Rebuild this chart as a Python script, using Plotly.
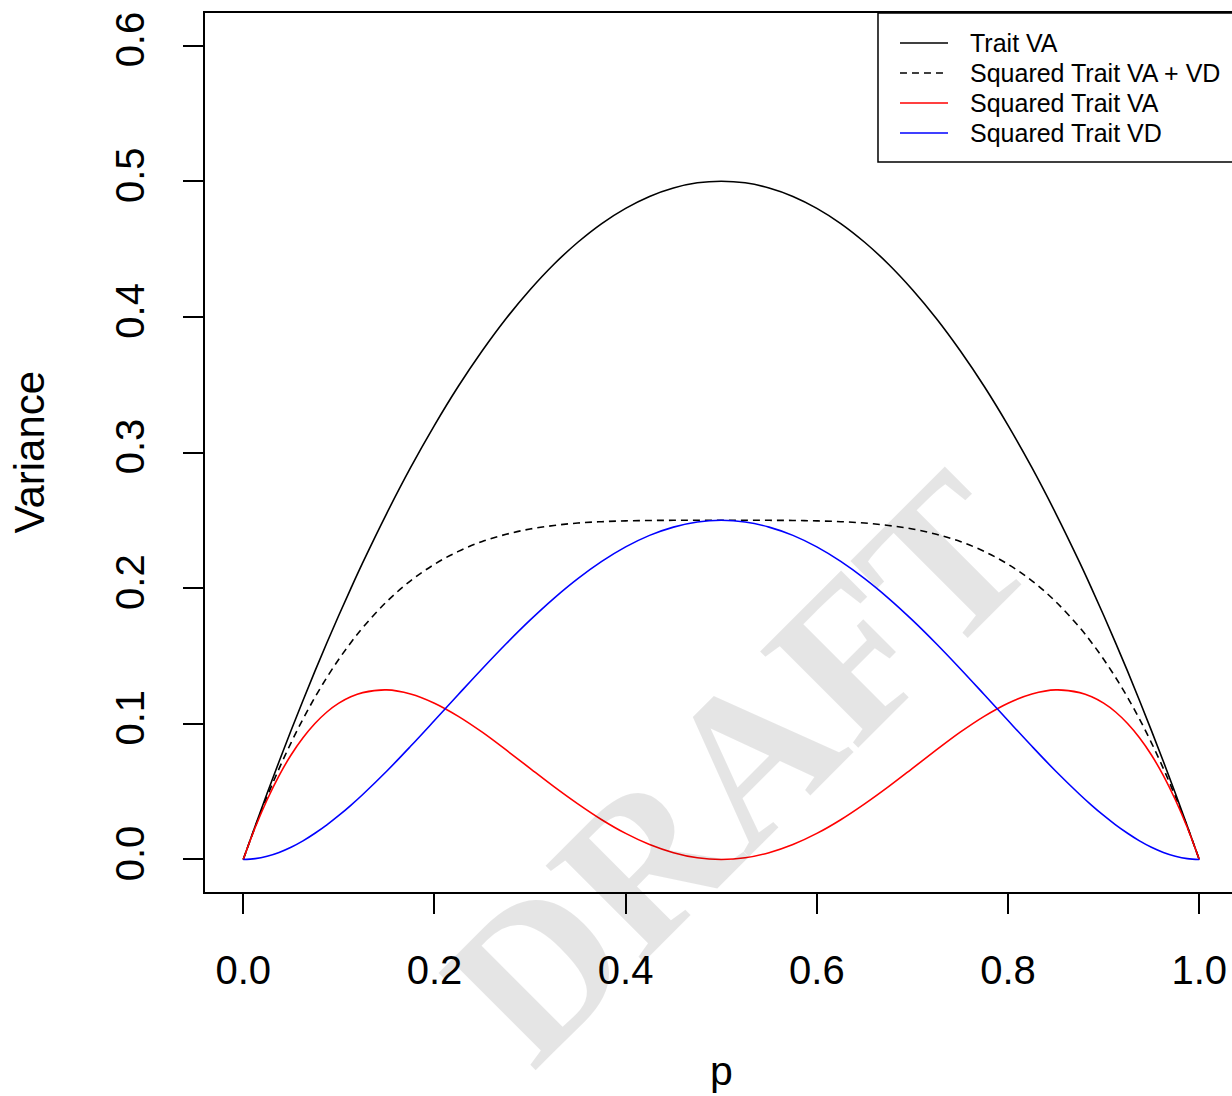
import plotly.graph_objects as go

# Allele frequency p and the variance components read along it
# (finer spacing near the ends where the curves rise steeply)
p = [0.0, 0.0125, 0.025, 0.0375, 0.05, 0.0625, 0.075, 0.0875, 0.1, 0.1125,
     0.125, 0.150, 0.175, 0.200, 0.225, 0.250, 0.275, 0.300, 0.325, 0.350,
     0.375, 0.400, 0.425, 0.450, 0.475, 0.500, 0.525, 0.550, 0.575, 0.600,
     0.625, 0.650, 0.675, 0.700, 0.725, 0.750, 0.775, 0.800, 0.825, 0.850,
     0.875, 0.8875, 0.9, 0.9125, 0.925, 0.9375, 0.95, 0.9625, 0.975, 0.9875,
     1.0]

trait_va = [0.0, 0.0247, 0.0488, 0.0722, 0.095, 0.1172, 0.1388, 0.1597, 0.18, 0.1997,
            0.2188, 0.255, 0.2888, 0.32, 0.3488, 0.375, 0.3988, 0.42, 0.4388, 0.455,
            0.4688, 0.48, 0.4888, 0.495, 0.4988, 0.5, 0.4988, 0.495, 0.4888, 0.48,
            0.4688, 0.455, 0.4388, 0.42, 0.3988, 0.375, 0.3488, 0.32, 0.2888, 0.255,
            0.2188, 0.1997, 0.18, 0.1597, 0.1388, 0.1172, 0.095, 0.0722, 0.0488, 0.0247,
            0.0]

sq_va_vd = [0.0, 0.0241, 0.0464, 0.067, 0.086, 0.1035, 0.1195, 0.1342, 0.1476, 0.1598,
            0.1709, 0.19, 0.2054, 0.2176, 0.2271, 0.2344, 0.2397, 0.2436, 0.2462, 0.248,
            0.249, 0.2496, 0.2499, 0.25, 0.25, 0.25, 0.25, 0.25, 0.2499, 0.2496,
            0.249, 0.248, 0.2462, 0.2436, 0.2397, 0.2344, 0.2271, 0.2176, 0.2054, 0.19,
            0.1709, 0.1598, 0.1476, 0.1342, 0.1195, 0.1035, 0.086, 0.067, 0.0464, 0.0241,
            0.0]

sq_va = [0.0, 0.0235, 0.044, 0.0618, 0.077, 0.0897, 0.1002, 0.1087, 0.1152, 0.1199,
         0.123, 0.125, 0.122, 0.1152, 0.1055, 0.0938, 0.0807, 0.0672, 0.0537, 0.041,
         0.0293, 0.0192, 0.011, 0.005, 0.0012, 0.0, 0.0012, 0.005, 0.011, 0.0192,
         0.0293, 0.041, 0.0537, 0.0672, 0.0807, 0.0938, 0.1055, 0.1152, 0.122, 0.125,
         0.123, 0.1199, 0.1152, 0.1087, 0.1002, 0.0897, 0.077, 0.0618, 0.044, 0.0235,
         0.0]

sq_vd = [0.0, 0.0006, 0.0024, 0.0052, 0.009, 0.0137, 0.0193, 0.0255, 0.0324, 0.0399,
         0.0479, 0.065, 0.0834, 0.1024, 0.1216, 0.1406, 0.159, 0.1764, 0.1925, 0.207,
         0.2197, 0.2304, 0.2389, 0.245, 0.2488, 0.25, 0.2488, 0.245, 0.2389, 0.2304,
         0.2197, 0.207, 0.1925, 0.1764, 0.159, 0.1406, 0.1216, 0.1024, 0.0834, 0.065,
         0.0479, 0.0399, 0.0324, 0.0255, 0.0193, 0.0137, 0.009, 0.0052, 0.0024, 0.0006,
         0.0]

series_names = ["Trait VA", "Squared Trait VA + VD", "Squared Trait VA", "Squared Trait VD"]
series_values = [trait_va, sq_va_vd, sq_va, sq_vd]
series_colors = ["black", "black", "#ff0000", "#0000ff"]
series_dash = ["solid", "7px,5px", "solid", "solid"]

x_ticks = [0.0, 0.2, 0.4, 0.6, 0.8, 1.0]
y_ticks = [0.0, 0.1, 0.2, 0.3, 0.4, 0.5, 0.6]

SANS = "Liberation Sans, Arial, Helvetica, sans-serif"
SERIF = "Liberation Serif, Times New Roman, serif"
LW = 1.6

fig = go.Figure()
for name, vals, col, dash in zip(series_names, series_values, series_colors, series_dash):
    fig.add_trace(go.Scatter(
        x=p, y=vals, name=name, mode="lines",
        line=dict(color=col, width=LW, dash=dash, shape="spline", smoothing=1.0),
        showlegend=False, hoverinfo="x+y+name",
    ))

annotations = []
shapes = []

# Boxed legend in the top-right corner (paper coordinates of the plot area)
box_x0, box_x1, box_y0, box_y1 = 0.6553, 1.05, 0.8305, 1.0
shapes.append(dict(type="rect", xref="paper", yref="paper",
                   x0=box_x0, x1=box_x1, y0=box_y0, y1=box_y1,
                   line=dict(color="black", width=1.5), fillcolor="white", layer="above"))
row_y = [0.9659, 0.9317, 0.8976, 0.8635]
for name, col, dash, yy in zip(series_names, series_colors, series_dash, row_y):
    shapes.append(dict(type="line", xref="paper", yref="paper",
                       x0=0.6767, x1=0.7235, y0=yy, y1=yy,
                       line=dict(color=col, width=LW, dash=dash), layer="above"))
    annotations.append(dict(xref="paper", yref="paper", x=0.7425, y=yy,
                            xanchor="left", yanchor="middle", showarrow=False,
                            text=name, font=dict(family=SANS, size=25, color="black")))

# Axis titles
annotations.append(dict(xref="x", yref="paper", x=0.5, y=0, yshift=-179,
                        xanchor="center", yanchor="middle", showarrow=False,
                        text="p", font=dict(family=SANS, size=41, color="black")))
annotations.append(dict(xref="paper", yref="y", x=0, y=0.3, xshift=-176,
                        xanchor="center", yanchor="middle", showarrow=False,
                        text="Variance", textangle=-90,
                        font=dict(family=SANS, size=42, color="black")))

# Diagonal watermark
annotations.append(dict(xref="x", yref="y", x=0.518, y=0.068,
                        xanchor="center", yanchor="middle", showarrow=False,
                        text="<b>DRAFT</b>", textangle=-45,
                        font=dict(family=SERIF, size=210, color="rgba(0,0,0,0.10)")))

fig.update_layout(
    width=1232, height=1096,
    margin=dict(l=205, r=0, t=13, b=204, pad=0),
    paper_bgcolor="white", plot_bgcolor="white",
    showlegend=False,
    annotations=annotations,
    shapes=shapes,
    xaxis=dict(
        range=[-0.04, 1.03427], tickmode="array", tickvals=x_ticks,
        ticktext=[f"{v:.1f}" for v in x_ticks],
        ticks="outside", ticklen=20, tickwidth=1.5, tickcolor="black",
        showline=True, linecolor="black", linewidth=1.5, mirror=True,
        showgrid=False, zeroline=False, ticklabelstandoff=22,
        tickfont=dict(family=SANS, size=40, color="black"),
    ),
    yaxis=dict(
        range=[-0.024, 0.624], tickmode="array", tickvals=y_ticks,
        ticktext=[f"{v:.1f}" for v in y_ticks], tickangle=-90,
        ticks="outside", ticklen=20, tickwidth=1.5, tickcolor="black",
        showline=True, linecolor="black", linewidth=1.5, mirror=False,
        showgrid=False, zeroline=False, ticklabelstandoff=23,
        tickfont=dict(family=SANS, size=40, color="black"),
    ),
)

fig.write_html("out.html")
